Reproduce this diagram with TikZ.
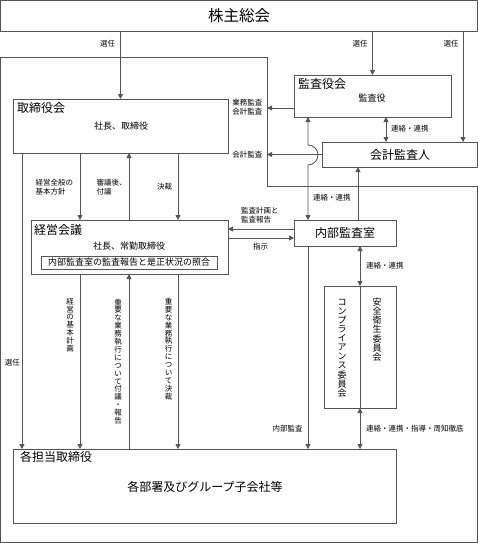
\documentclass[tikz,border=0pt]{standalone}
\usepackage{fontspec}
\setmainfont{Noto Sans CJK JP}
\usetikzlibrary{arrows.meta,calc}
\definecolor{ln}{HTML}{555555}
\tikzset{
  box/.style={draw=ln, line width=0.8pt, inner sep=0pt, outer sep=0pt},
  lnk/.style={draw=ln, line width=0.8pt},
  arr/.style={lnk, -{Triangle[length=5pt,width=5pt]}},
  darr/.style={lnk, {Triangle[length=5pt,width=5pt]}-{Triangle[length=5pt,width=5pt]}},
  ttl/.style={inner sep=0pt, font=\fontsize{12}{14}\selectfont},
  body/.style={inner sep=0pt, font=\fontsize{9}{11}\selectfont},
  lbl/.style={inner sep=0pt, font=\fontsize{7.5}{9.5}\selectfont, align=left},
  vlbl/.style={inner sep=0pt, font=\fontsize{7.5}{7.9}\selectfont, align=center},
  vbody/.style={inner sep=0pt, font=\fontsize{9}{9.1}\selectfont, align=center},
}
\begin{document}
\begin{tikzpicture}[x=1pt,y=-1pt]
\useasboundingbox (0,0) rectangle (478,543);
% outer frame
\draw[lnk] (0.5,57) -- (267,57) -- (267,186) -- (477,186) -- (477,542.5) -- (0.5,542.5) -- cycle;
\coordinate (fx) at (267,0);
% boxes
\node[box, minimum width=476.5pt, minimum height=30.5pt] (soukai) at (238.75,15.75) {};
\node[inner sep=0pt, font=\fontsize{15.5}{17}\selectfont] (soukaiT) at (239,16) {株主総会};
\node[box, minimum width=215pt, minimum height=54pt] (tori) at (120.5,126) {};
\node[ttl, anchor=west] (toriT) at (17,108) {取締役会};
\node[body] (toriB) at (121,126) {社長、取締役};
\node[box, minimum width=157pt, minimum height=42pt] (kansa) at (372.5,96) {};
\node[ttl, anchor=west] (kansaT) at (298,84) {監査役会};
\node[body] (kansaB) at (372,98) {監査役};
\node[box, minimum width=155pt, minimum height=25pt] (kaikei) at (399.5,154.5) {};
\node[ttl] (kaikeiT) at (400,155) {会計監査人};
\node[box, minimum width=102pt, minimum height=26pt] (naibu) at (345,233) {};
\node[ttl] (naibuT) at (345,233) {内部監査室};
\node[box, minimum width=197pt, minimum height=54pt] (keiei) at (129.5,247) {};
\node[ttl, anchor=west] (keieiT) at (34,230) {経営会議};
\node[body] (keieiB) at (129,246) {社長、常勤取締役};
\node[box, minimum width=176pt, minimum height=13pt] (inner) at (129,262.5) {};
\node[body] (innerT) at (129,262.5) {内部監査室の監査報告と是正状況の照合};
\node[box, minimum width=72pt, minimum height=122pt] (comp) at (360,347) {};
\node[vbody] (compA) at (342,348) {コ\\ン\\プ\\ラ\\イ\\ア\\ン\\ス\\委\\員\\会};
\node[vbody] (compB) at (377,329.5) {安\\全\\衛\\生\\委\\員\\会};
\node[box, minimum width=383pt, minimum height=74pt] (tantou) at (204.5,486) {};
\node[ttl, anchor=west] (tantouT) at (20,457) {各担当取締役};
\node[ttl] (tantouB) at (205,487) {各部署及びグループ子会社等};
% connectors from 株主総会
\draw[arr] (tori.north |- soukai.south) -- (tori.north);
\draw[arr] (kansa.north |- soukai.south) -- (kansa.north);
\draw[arr] (soukai.south -| 463,0) -- (kaikei.north -| 463,0);
\node[lbl] (l1) at (107.5,44) {選任};
\node[lbl] (l2) at (360,44) {選任};
\node[lbl] (l3) at (451,44) {選任};
% 監査役会 connectors
\draw[arr] ([yshift=-12pt]kansa.west) -- ([yshift=-12pt]kansa.west -| fx);
\node[lbl, anchor=east] (l4) at (262.5,107) {業務監査\\会計監査};
\draw[darr] (kansa.south -| 386,0) -- (kaikei.north -| 386,0);
\node[lbl, anchor=west] (l5) at (391,129) {連絡・連携};
\draw[lnk, {Triangle[length=5pt,width=5pt]}-{Triangle[length=5pt,width=5pt]}]
  (kansa.south -| 308,0) -- (308,145) arc[start angle=90, end angle=-90, radius=10pt] -- (naibu.north -| 308,0);
\node[lbl, anchor=west] (l6) at (313,198) {連絡・連携};
\draw[arr] (kaikei.west) -- (kaikei.west -| fx);
\node[lbl, anchor=east] (l7) at (262.5,155) {会計監査};
\draw[arr] (naibu.north -| 358,0) -- (kaikei.south -| 358,0);
% 取締役会 - 経営会議
\draw[arr] (tori.south -| 80,0) -- (keiei.north -| 80,0);
\draw[arr] (keiei.north -| 129,0) -- (tori.south -| 129,0);
\draw[arr] (tori.south -| 178,0) -- (keiei.north -| 178,0);
\node[lbl, anchor=west] (l8) at (35.5,187) {経営全般の\\基本方針};
\node[lbl, anchor=west] (l9) at (96.5,187) {審議後、\\付議};
\node[lbl] (l10) at (164.5,187) {決裁};
% 経営会議 - 内部監査室
\draw[arr] ([yshift=4pt]naibu.west) -- ([yshift=4pt]naibu.west -| keiei.east);
\draw[arr] ([yshift=-5pt]keiei.east |- naibu.west) -- ([yshift=-5pt]naibu.west);
\node[lbl, anchor=west] (l11) at (241,215) {監査計画と\\監査報告};
\node[lbl] (l12) at (260.5,246.5) {指示};
% to 各担当取締役
\draw[arr] (tori.south -| 22,0) -- (tantou.north -| 22,0);
\node[lbl] (l13) at (12.5,363) {選任};
\draw[arr] (keiei.south -| 80,0) -- (tantou.north -| 80,0);
\draw[arr] (tantou.north -| 129,0) -- (keiei.south -| 129,0);
\draw[arr] (keiei.south -| 178,0) -- (tantou.north -| 178,0);
\node[vlbl] (l14) at (70,325) {経\\営\\の\\基\\本\\計\\画};
\node[vlbl] (l15) at (118,361.5) {重\\要\\な\\業\\務\\執\\行\\に\\つ\\い\\て\\付\\議\\・\\報\\告};
\node[vlbl] (l16) at (168.5,349) {重\\要\\な\\業\\務\\執\\行\\に\\つ\\い\\て\\決\\裁};
\draw[arr] (naibu.south -| 308,0) -- (tantou.north -| 308,0);
\node[lbl] (l17) at (287.5,429) {内部監査};
\draw[darr] (naibu.south -| comp.north) -- (comp.north);
\node[lbl, anchor=west] (l18) at (366,266) {連絡・連携};
\draw[lnk] (comp.north) -- (comp.south);
\draw[darr] (comp.south) -- (tantou.north -| comp.south);
\node[lbl, anchor=west] (l19) at (366,429) {連絡・連携・指導・周知徹底};
\end{tikzpicture}
\end{document}
